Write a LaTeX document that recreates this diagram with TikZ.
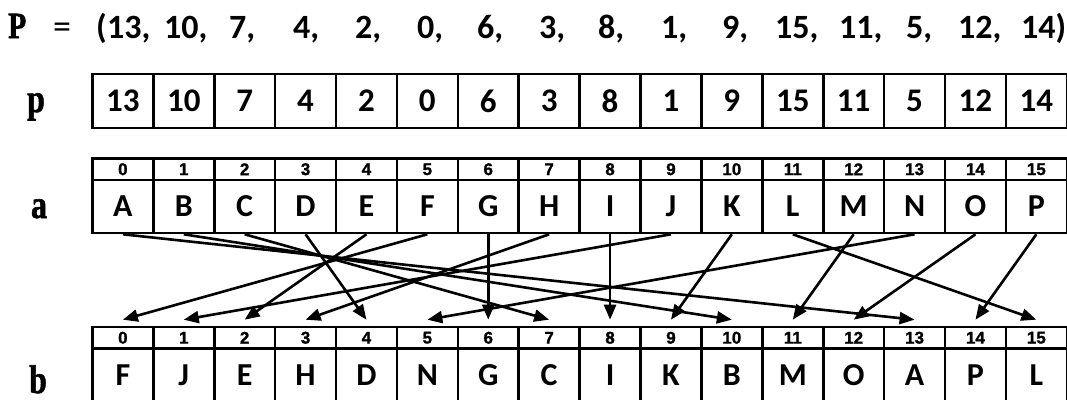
\documentclass[tikz,border=0pt]{standalone}
\usepackage{fontspec}
\usetikzlibrary{arrows.meta}
\newfontfamily\calfont{Carlito}
\newfontfamily\idxfont[FakeBold=1.2]{Liberation Sans Bold}
\newfontfamily\heavyserif[FakeBold=1.5]{Liberation Serif Bold}
\begin{document}
\begin{tikzpicture}[x=1pt,y=-1pt]
\tikzset{
  cell/.style={draw, line width=2.6pt, minimum width=60.9pt, inner sep=0pt, anchor=center},
  pcell/.style={cell, minimum height=54pt, font=\calfont\bfseries\fontsize{33}{33}\selectfont},
  icell/.style={cell, minimum height=21.5pt, font=\idxfont\fontsize{17}{17}\selectfont},
  lcell/.style={cell, minimum height=53pt, font=\calfont\bfseries\fontsize{32}{32}\selectfont},
  lbl/.style={font=\heavyserif\fontsize{40}{40}\selectfont, anchor=base, inner sep=0pt},
  ttl/.style={font=\calfont\bfseries\fontsize{34}{34}\selectfont, anchor=base west, inner sep=0pt},
  arr/.style={line width=2.6pt, -{Triangle[length=15pt,width=12pt]}},
}
\useasboundingbox (0,0) rectangle (1067,399);
% title
\node[lbl, anchor=base west, font=\heavyserif\fontsize{37}{37}\selectfont] (tP) at (8,38) {\scalebox{0.8}[1]{P}};
\node[font=\calfont\fontsize{36}{36}\selectfont, inner sep=0pt, anchor=base] (teq) at (62,38) {=};
\node[ttl] (tpar) at (96,38) {(};
\node[ttl] (t1) at (107,38) {13,};
\node[ttl] (t2) at (164,38) {10,};
\node[ttl] (t3) at (229,38) {7,};
\node[ttl] (t4) at (293,38) {4,};
\node[ttl] (t5) at (355,38) {2,};
\node[ttl] (t6) at (417,38) {0,};
\node[ttl] (t7) at (477,38) {6,};
\node[ttl] (t8) at (539,38) {3,};
\node[ttl] (t9) at (598,38) {8,};
\node[ttl] (t10) at (661,38) {1,};
\node[ttl] (t11) at (722,38) {9,};
\node[ttl] (t12) at (775,38) {15,};
\node[ttl] (t13) at (839,38) {11,};
\node[ttl] (t14) at (906,38) {5,};
\node[ttl] (t15) at (958,38) {12,};
\node[ttl] (t16) at (1021,38) {14)};
% labels
\node[lbl] (lp) at (36,112) {\scalebox{0.8}[1]{p}};
\node[lbl] (la) at (39,218) {\scalebox{0.8}[1]{a}};
\node[lbl] (lb) at (38,393) {\scalebox{0.8}[1]{b}};
% p row
\foreach \v [count=\i from 0] in {13,10,7,4,2,0,6,3,8,1,9,15,11,5,12,14}
  \node[pcell] (p\i) at ({92.4+60.9*(\i+0.5)},101) {\v};
% a rows
\foreach \v [count=\i from 0] in {A,B,C,D,E,F,G,H,I,J,K,L,M,N,O,P}{
  \node[icell] (ai\i) at ({92.4+60.9*(\i+0.5)},169.25) {\i};
  \node[lcell] (a\i) at ({92.4+60.9*(\i+0.5)},206.5) {\v};
}
% b rows
\foreach \v [count=\i from 0] in {F,J,E,H,D,N,G,C,I,K,B,M,O,A,P,L}{
  \node[icell] (bi\i) at ({92.4+60.9*(\i+0.5)},337.75) {\i};
  \node[lcell, minimum height=54pt] (b\i) at ({92.4+60.9*(\i+0.5)},375.5) {\v};
}
% arrows
\foreach \s/\t in {0/13,1/10,2/7,3/4,4/2,5/0,6/6,7/3,8/8,9/1,10/9,11/15,12/11,13/5,14/12,15/14}
  \draw[arr] (a\s.south) -- ([yshift=6pt]bi\t.north);
\end{tikzpicture}
\end{document}
